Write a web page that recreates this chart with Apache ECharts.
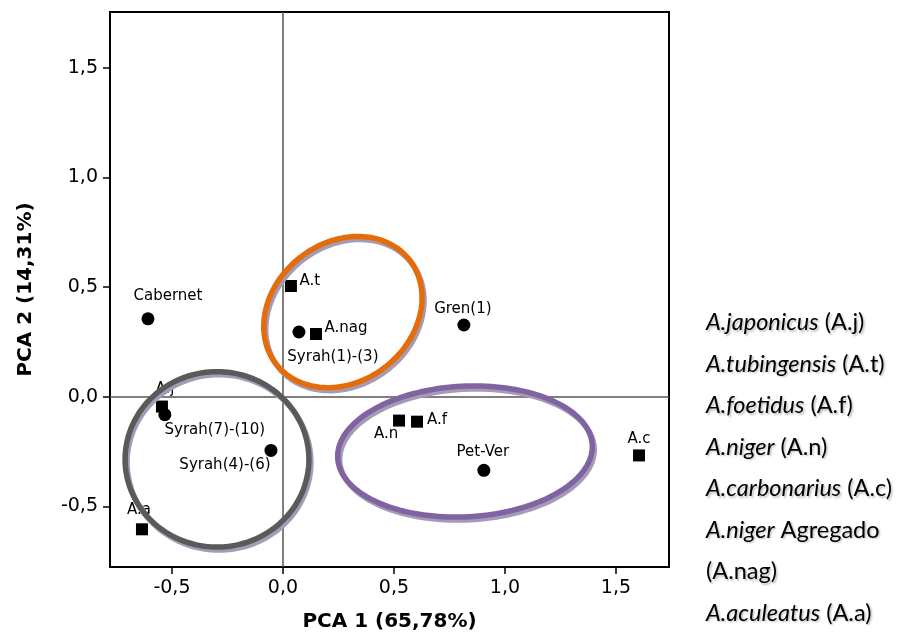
<!DOCTYPE html>
<html>
<head>
<meta charset="utf-8">
<title>PCA</title>
<script src="https://cdn.jsdelivr.net/npm/echarts@6/dist/echarts.min.js"></script>
<style>
  html, body { margin: 0; padding: 0; background: #fff; }
  #chart { width: 906px; height: 637px; }
</style>
</head>
<body>
<div id="chart"></div>
<script>
// Wine samples (circles)
const wineNames = ['Cabernet', 'Syrah(1)-(3)', 'Gren(1)', 'Syrah(7)-(10)', 'Syrah(4)-(6)', 'Pet-Ver'];
const wineX = [-0.608, 0.072, 0.815, -0.532, -0.054, 0.905];
const wineY = [0.355, 0.295, 0.327, -0.082, -0.245, -0.336];

// Aspergillus species (squares)
const fungusNames = ['A.t', 'A.nag', 'A.j', 'A.a', 'A.n', 'A.f', 'A.c'];
const fungusX = [0.036, 0.149, -0.545, -0.635, 0.523, 0.604, 1.604];
const fungusY = [0.505, 0.286, -0.045, -0.605, -0.109, -0.114, -0.268];

// Grouping ellipses: centre, semi-axes (PCA units) and tilt in degrees
const groupCenterX = [0.27, -0.297, 0.82];
const groupCenterY = [0.386, -0.286, -0.25];
const groupRadiusX = [0.383, 0.414, 0.574];
const groupRadiusY = [0.315, 0.40, 0.298];
const groupAngle = [40, 0, 3];

// Axis ticks
const tickValues = [-0.5, 0, 0.5, 1, 1.5];
const tickLabels = ['-0,5', '0,0', '0,5', '1,0', '1,5'];

// Species key on the right
const keyItalic = ['A.japonicus', 'A.tubingensis', 'A.foetidus', 'A.niger', 'A.carbonarius', 'A.niger', '', 'A.aculeatus'];
const keyPlain = ['(A.j)', '(A.t)', '(A.f)', '(A.n)', '(A.c)', 'Agregado', '(A.nag)', '(A.a)'];

// ---- styling ----
const groupColors = ['#e46c0a', '#5a5a5a', '#8064a2'];
const groupShadow = '#a49cb6';
const labelOffset = {
  'Cabernet': [20, -23], 'Syrah(1)-(3)': [34, 25], 'Gren(1)': [-1, -16],
  'Syrah(7)-(10)': [50, 15], 'Syrah(4)-(6)': [-46, 15], 'Pet-Ver': [-1, -18],
  'A.t': [19, -5], 'A.nag': [30, -6], 'A.j': [3, -17], 'A.a': [-3, -19],
  'A.n': [-13, 14], 'A.f': [20, -2], 'A.c': [0, -16]
};

function tickText(v) {
  for (let i = 0; i < tickValues.length; i++) {
    if (Math.abs(tickValues[i] - v) < 1e-6) return tickLabels[i];
  }
  return '';
}

function pointData(names, xs, ys) {
  return names.map((n, i) => ({
    name: n,
    value: [xs[i], ys[i]],
    label: { offset: labelOffset[n] || [0, 0] }
  }));
}

const pointLabel = {
  show: true,
  position: 'inside',
  formatter: '{b}',
  color: '#000',
  fontFamily: 'DejaVu Sans',
  fontSize: 15,
  align: 'center',
  verticalAlign: 'middle'
};

const groupData = groupCenterX.map((cx, i) => [cx, groupCenterY[i], groupRadiusX[i], groupRadiusY[i], groupAngle[i]]);

function renderEllipse(params, api) {
  const cx = api.value(0), cy = api.value(1);
  const rx = api.value(2), ry = api.value(3);
  const a = api.value(4) * Math.PI / 180;
  const pts = [];
  const n = 160;
  for (let k = 0; k < n; k++) {
    const t = 2 * Math.PI * k / n;
    const dx = rx * Math.cos(t), dy = ry * Math.sin(t);
    pts.push(api.coord([cx + dx * Math.cos(a) - dy * Math.sin(a), cy + dx * Math.sin(a) + dy * Math.cos(a)]));
  }
  const shadowPts = pts.map(p => [p[0] + 2, p[1] + 3]);
  return {
    type: 'group',
    children: [
      { type: 'polygon', shape: { points: shadowPts }, style: { fill: 'none', stroke: groupShadow, lineWidth: 5.5 } },
      { type: 'polygon', shape: { points: pts }, style: { fill: 'none', stroke: groupColors[params.dataIndex], lineWidth: 5.5 } }
    ]
  };
}

const shadowStyle = {
  textShadowColor: 'rgba(0,0,0,0.25)',
  textShadowBlur: 2,
  textShadowOffsetX: 1.5,
  textShadowOffsetY: 1.5
};
const keyFont = 'Lato';
const keyFontSize = 23.5;
const keyLineHeight = 41.5;
const keyText = keyItalic.map((it, i) => {
  const parts = [];
  if (it) parts.push('{i|' + it + '}');
  if (keyPlain[i]) parts.push('{n|' + keyPlain[i] + '}');
  return parts.join('{n| }');
}).join('\n');

const axisFont = { fontFamily: 'DejaVu Sans', fontSize: 19, color: '#000' };
const axisTitle = { fontFamily: 'DejaVu Sans', fontSize: 20, fontWeight: 'bold', color: '#000' };

const chart = echarts.init(document.getElementById('chart'), null, { renderer: 'canvas' });
chart.setOption({
  animation: false,
  backgroundColor: '#fff',
  title: {
    left: 706,
    top: 302,
    padding: 0,
    text: keyText,
    textStyle: {
      fontFamily: keyFont,
      fontSize: keyFontSize,
      fontWeight: 'normal',
      lineHeight: keyLineHeight,
      color: '#000',
      rich: {
        i: Object.assign({ fontFamily: keyFont, fontSize: keyFontSize, fontWeight: 'normal', fontStyle: 'italic', lineHeight: keyLineHeight, color: '#000' }, shadowStyle),
        n: Object.assign({ fontFamily: keyFont, fontSize: keyFontSize, fontWeight: 'normal', lineHeight: keyLineHeight, color: '#000' }, shadowStyle)
      }
    }
  },
  grid: {
    left: 110, top: 12, right: 237, bottom: 68,
    show: true, borderColor: '#000', borderWidth: 2, backgroundColor: '#fff'
  },
  xAxis: {
    type: 'value', min: -0.779, max: 1.739,
    name: 'PCA 1 (65,78%)', nameLocation: 'middle', nameGap: 45,
    nameTextStyle: axisTitle,
    axisLine: { show: true, onZero: false, lineStyle: { color: '#000', width: 2 } },
    axisTick: { show: true, length: 7, customValues: tickValues, lineStyle: { color: '#000', width: 1.5 } },
    axisLabel: Object.assign({ customValues: tickValues, formatter: tickText, margin: 12 }, axisFont),
    splitLine: { show: false }
  },
  yAxis: {
    type: 'value', min: -0.777, max: 1.755,
    name: 'PCA 2 (14,31%)', nameLocation: 'middle', nameGap: 74, nameRotate: 90,
    nameTextStyle: axisTitle,
    axisLine: { show: true, onZero: false, lineStyle: { color: '#000', width: 2 } },
    axisTick: { show: true, length: 7, customValues: tickValues, lineStyle: { color: '#000', width: 1.5 } },
    axisLabel: Object.assign({ customValues: tickValues, formatter: tickText, margin: 12 }, axisFont),
    splitLine: { show: false }
  },
  series: [
    {
      type: 'scatter', z: 2,
      symbol: 'circle', symbolSize: 13,
      itemStyle: { color: '#000', opacity: 1 },
      label: pointLabel,
      data: pointData(wineNames, wineX, wineY),
      markLine: {
        silent: true,
        symbol: ['none', 'none'],
        label: { show: false },
        lineStyle: { color: '#555', width: 1.5, type: 'solid' },
        data: [{ xAxis: 0 }, { yAxis: 0 }]
      }
    },
    {
      type: 'scatter', z: 2,
      symbol: 'rect', symbolSize: 12,
      itemStyle: { color: '#000', opacity: 1 },
      label: pointLabel,
      data: pointData(fungusNames, fungusX, fungusY)
    },
    {
      type: 'custom', z: 10,
      renderItem: renderEllipse,
      silent: true,
      data: groupData
    }
  ]
});
</script>
</body>
</html>
